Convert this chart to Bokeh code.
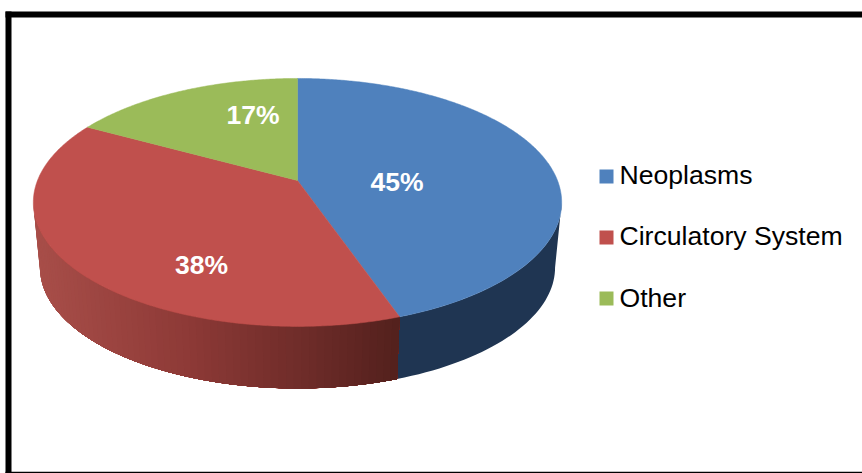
import math
from bokeh.plotting import figure
from bokeh.embed import file_html
from bokeh.resources import INLINE
from bokeh.core.properties import value

# --- data ---
categories = ["Neoplasms", "Circulatory System", "Other"]
shares = [44.7, 38.3, 17.0]
labels = ["45%", "38%", "17%"]

# --- style / layout ---
top_colors = ["#4F81BD", "#C0504D", "#9BBB59"]
WIDTH, HEIGHT = 862, 473
CX, CY = 297.0, 180.0       # pie apex on screen
P = 0.177                   # perspective strength
A, B = 260.0, 120.1         # unprojected radii
DEPTH = 65.6                # offset of lower rim
SHRINK = 0.975              # lower rim scale
label_xy = [(396.5, 181), (201, 264), (252.5, 114)]
legend_x_swatch = 606
legend_x_text = 619
legend_y = [174.5, 235.5, 297]
swatch_y = [176, 237, 298]
FONT = "Liberation Sans"


def project(deg, r=1.0):
    t = math.radians(deg)
    u, v = r * math.sin(t), -r * math.cos(t)
    d = 1 - P * v
    return CX + A * u / d, CY + B * v / d


def lower(deg):
    x, y = project(deg)
    return CX + (x - CX) * SHRINK, CY + DEPTH + (y - CY) * SHRINK


def lerp_color(stops, f):
    f = min(max(f, 0.0), 1.0)
    for (f0, c0), (f1, c1) in zip(stops, stops[1:]):
        if f <= f1:
            k = (f - f0) / (f1 - f0)
            return "#%02x%02x%02x" % tuple(round(a + (b - a) * k) for a, b in zip(c0, c1))
    return "#%02x%02x%02x" % stops[-1][1]


p = figure(width=WIDTH, height=HEIGHT, x_range=(0, WIDTH), y_range=(HEIGHT, 0),
           toolbar_location=None, output_backend="svg", min_border=0,
           outline_line_color=None, background_fill_color="white",
           border_fill_color="white",
           styles={"position": "absolute", "left": "0px", "top": "0px"})
p.axis.visible = False
p.grid.visible = False

# boundaries in degrees, clockwise from the back of the pie
bounds = [0.0]
for s in shares:
    bounds.append(bounds[-1] + s * 360.0 / sum(shares))

# side wall: visible from the right silhouette to the left silhouette.
# Strips are painted from each end towards the blue/red edge and overlap, so no seams show.
right_sil = math.degrees(math.acos(-P))
left_sil = 360 - right_sil
wall_stops = [(0.0, (168, 78, 73)), (0.4, (142, 58, 55)), (0.75, (108, 43, 40)), (1.0, (82, 32, 28))]
wx, wy, wc = [], [], []

# blue wall: one solid shape
n = 40
angs = [right_sil + (bounds[1] - right_sil) * k / n for k in range(n + 1)]
wx.append([project(a)[0] for a in angs] + [lower(a)[0] for a in reversed(angs)])
wy.append([project(a)[1] for a in angs] + [lower(a)[1] for a in reversed(angs)])
wc.append("#1F3552")

# red wall: nested strips from the left end, each reaching the boundary
steps = 70
for i in range(steps):
    a0 = left_sil - (left_sil - bounds[1]) * i / steps
    k = 40
    angs = [a0 + (bounds[1] - a0) * j / k for j in range(k + 1)]
    wx.append([project(a)[0] for a in angs] + [lower(a)[0] for a in reversed(angs)])
    wy.append([project(a)[1] for a in angs] + [lower(a)[1] for a in reversed(angs)])
    xm = lower(a0)[0]
    wc.append(lerp_color(wall_stops, (xm - lower(left_sil)[0]) / (lower(bounds[1])[0] - lower(left_sil)[0])))
p.patches(wx, wy, fill_color=wc, line_color=None)

# top face
for i, c in enumerate(top_colors):
    n = max(2, int((bounds[i + 1] - bounds[i]) * 2))
    pts = [project(bounds[i] + (bounds[i + 1] - bounds[i]) * k / n) for k in range(n + 1)]
    xs = [CX] + [q[0] for q in pts]
    ys = [CY] + [q[1] for q in pts]
    p.patch(xs, ys, fill_color=c, line_color=c, line_width=0.5)

# data labels
p.text([q[0] for q in label_xy], [q[1] for q in label_xy], text=labels,
       text_color="white", text_font=value(FONT), text_font_size="26.5px",
       text_font_style="bold", text_align="center", text_baseline="middle")

# legend
p.rect([legend_x_swatch] * 3, swatch_y, width=14, height=14, fill_color=top_colors, line_color=None)
p.text([legend_x_text] * 3, legend_y, text=categories, text_color="black",
       text_font=value(FONT), text_font_size="26.6px", text_align="left", text_baseline="middle")

# frame (open at the right, as in the reference)
p.line([8, 8], [11, 473], line_color="black", line_width=6)
p.line([5, 862], [14, 14], line_color="black", line_width=6)
p.line([5, 862], [472, 472], line_color="black", line_width=1.5)

open("out.html", "w").write(file_html(p, INLINE))
